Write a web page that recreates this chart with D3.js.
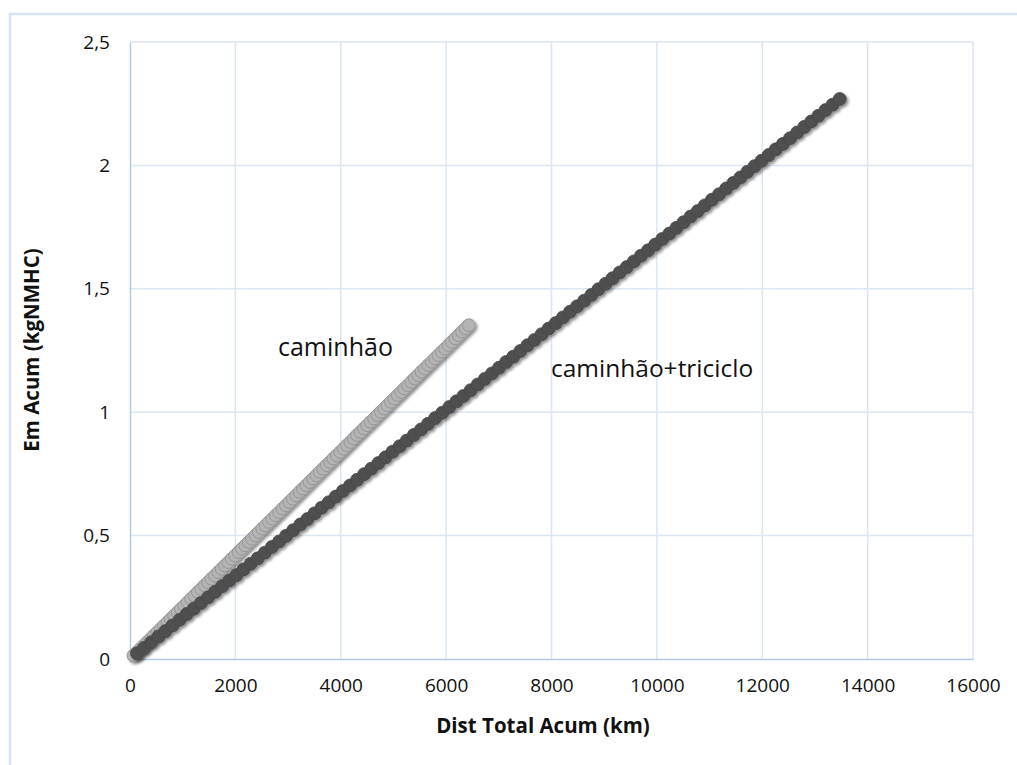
<!DOCTYPE html>
<html>
<head>
<meta charset="utf-8">
<script src="https://cdn.jsdelivr.net/npm/d3@7"></script>
<style>
  html, body { margin: 0; padding: 0; background: #fff; }
  svg { display: block; }
  text { font-family: "Open Sans", "Liberation Sans", sans-serif; fill: #111; }
</style>
</head>
<body>
<svg id="chart" width="1017" height="765"></svg>
<script>
// ---- data ----
const xTicks = [0, 2000, 4000, 6000, 8000, 10000, 12000, 14000, 16000];
const yTicks = [0, 0.5, 1, 1.5, 2, 2.5];
const yTickLabels = ["0", "0,5", "1", "1,5", "2", "2,5"];
const xTitle = "Dist Total Acum (km)";
const yTitle = "Em Acum (kgNMHC)";

// série "caminhão" (light grey)
const caminhaoDist = [64,129,193,257,322,386,450,514,579,643,707,772,836,900,965,1029,1093,1157,1222,1286,
  1350,1415,1479,1543,1608,1672,1736,1800,1865,1929,1993,2058,2122,2186,2251,2315,2379,2443,2508,2572,
  2636,2701,2765,2829,2894,2958,3022,3086,3151,3215,3279,3344,3408,3472,3537,3601,3665,3729,3794,3858,
  3922,3987,4051,4115,4180,4244,4308,4372,4437,4501,4565,4630,4694,4758,4823,4887,4951,5015,5080,5144,
  5208,5273,5337,5401,5466,5530,5594,5658,5723,5787,5851,5916,5980,6044,6109,6173,6237,6301,6366,6430];
const caminhaoEm = [0.014,0.027,0.041,0.054,0.068,0.081,0.095,0.108,0.122,0.135,0.149,0.162,0.176,0.189,0.203,0.216,0.230,0.244,0.257,0.271,
  0.284,0.298,0.311,0.325,0.338,0.352,0.365,0.379,0.392,0.406,0.419,0.433,0.447,0.460,0.474,0.487,0.501,0.514,0.528,0.541,
  0.555,0.568,0.582,0.595,0.609,0.622,0.636,0.649,0.663,0.677,0.690,0.704,0.717,0.731,0.744,0.758,0.771,0.785,0.798,0.812,
  0.825,0.839,0.852,0.866,0.879,0.893,0.907,0.920,0.934,0.947,0.961,0.974,0.988,1.001,1.015,1.028,1.042,1.055,1.069,1.082,
  1.096,1.109,1.123,1.137,1.150,1.164,1.177,1.191,1.204,1.218,1.231,1.245,1.258,1.272,1.285,1.299,1.312,1.326,1.339,1.353];

// série "caminhão+triciclo" (dark grey)
const triDist = [135,269,404,539,674,808,943,1078,1212,1347,1482,1616,1751,1886,2021,2155,2290,2425,2559,2694,
  2829,2963,3098,3233,3368,3502,3637,3772,3906,4041,4176,4310,4445,4580,4715,4849,4984,5119,5253,5388,
  5523,5657,5792,5927,6062,6196,6331,6466,6600,6735,6870,7004,7139,7274,7409,7543,7678,7813,7947,8082,
  8217,8351,8486,8621,8756,8890,9025,9160,9294,9429,9564,9698,9833,9968,10103,10237,10372,10507,10641,10776,
  10911,11045,11180,11315,11450,11584,11719,11854,11988,12123,12258,12392,12527,12662,12797,12931,13066,13201,13335,13470];
const triEm = [0.023,0.045,0.068,0.091,0.113,0.136,0.159,0.182,0.204,0.227,0.250,0.272,0.295,0.318,0.340,0.363,0.386,0.408,0.431,0.454,
  0.476,0.499,0.522,0.545,0.567,0.590,0.613,0.635,0.658,0.681,0.703,0.726,0.749,0.771,0.794,0.817,0.840,0.862,0.885,0.908,
  0.930,0.953,0.976,0.998,1.021,1.044,1.066,1.089,1.112,1.135,1.157,1.180,1.203,1.225,1.248,1.271,1.293,1.316,1.339,1.361,
  1.384,1.407,1.429,1.452,1.475,1.498,1.520,1.543,1.566,1.588,1.611,1.634,1.656,1.679,1.702,1.724,1.747,1.770,1.793,1.815,
  1.838,1.861,1.883,1.906,1.929,1.951,1.974,1.997,2.019,2.042,2.065,2.087,2.110,2.133,2.156,2.178,2.201,2.224,2.246,2.269];

const seriesNames = ["caminhão", "caminhão+triciclo"];

// ---- layout ----
const svg = d3.select("#chart");
const pLeft = 130, pRight = 973, pTop = 42, pBottom = 659;

const x = d3.scaleLinear().domain([0, 16000]).range([pLeft, pRight]);
const y = d3.scaleLinear().domain([0, 2.5]).range([pBottom, pTop]);

// outer chart border (light blue, cut by the picture edges)
svg.append("path")
  .attr("d", `M10,766 L10,14 L1018,14`)
  .attr("fill", "none").attr("stroke", "#d5e2f2").attr("stroke-width", 2.5);

// drop shadow filter
const defs = svg.append("defs");
const f = defs.append("filter").attr("id", "sh").attr("x", "-50%").attr("y", "-50%").attr("width", "200%").attr("height", "200%");
f.append("feDropShadow").attr("dx", 2).attr("dy", 2).attr("stdDeviation", 1.6).attr("flood-color", "#000").attr("flood-opacity", 0.45);

// gridlines
const grid = svg.append("g");
grid.selectAll("line.v").data(xTicks.slice(1)).join("line")
  .attr("x1", d => x(d)).attr("x2", d => x(d)).attr("y1", pTop).attr("y2", pBottom)
  .attr("stroke", "#dbe5f4").attr("stroke-width", 1.5);
grid.selectAll("line.h").data(yTicks.slice(1)).join("line")
  .attr("x1", pLeft).attr("x2", pRight).attr("y1", d => y(d)).attr("y2", d => y(d))
  .attr("stroke", "#dbe5f4").attr("stroke-width", 1.5);

// axes
const xAxis = d3.axisBottom(x).tickValues(xTicks).tickSize(0).tickPadding(20).tickFormat(d3.format("d"));
const gx = svg.append("g").attr("transform", `translate(0,${pBottom})`).call(xAxis);
gx.select(".domain").attr("stroke", "#b4c9e6").attr("stroke-width", 1.5);
gx.selectAll("text").attr("font-size", 19).attr("fill", "#111").attr("font-family", "Open Sans");

const yAxis = d3.axisLeft(y).tickValues(yTicks).tickSize(0).tickPadding(20).tickFormat((d, i) => yTickLabels[i]);
const gy = svg.append("g").attr("transform", `translate(${pLeft},0)`).call(yAxis);
gy.select(".domain").attr("stroke", "#b4c9e6").attr("stroke-width", 1.5);
gy.selectAll("text").attr("font-size", 19).attr("fill", "#111").attr("font-family", "Open Sans");

// series
const dataCam = caminhaoDist.map((d, i) => [d, caminhaoEm[i]]);
const dataTri = triDist.map((d, i) => [d, triEm[i]]);

svg.append("g").attr("filter", "url(#sh)")
  .selectAll("circle").data(dataCam).join("circle")
  .attr("cx", d => x(d[0])).attr("cy", d => y(d[1])).attr("r", 6.3)
  .attr("fill", "#b4b4b4").attr("stroke", "#969696").attr("stroke-width", 1);

svg.append("g").attr("filter", "url(#sh)")
  .selectAll("circle").data(dataTri).join("circle")
  .attr("cx", d => x(d[0])).attr("cy", d => y(d[1])).attr("r", 6.5)
  .attr("fill", "#4f4f4f").attr("stroke", "#474747").attr("stroke-width", 0.8);

// axis titles
svg.append("text").attr("x", 543).attr("y", 733)
  .attr("text-anchor", "middle").attr("font-size", 20.5).attr("font-weight", "bold").text(xTitle);
svg.append("text").attr("transform", `translate(39,350) rotate(-90)`)
  .attr("text-anchor", "middle").attr("font-size", 20.5).attr("font-weight", "bold").text(yTitle);

// series annotations
svg.append("text").attr("x", 278).attr("y", 356).attr("font-size", 25).text(seriesNames[0]);
svg.append("text").attr("x", 551).attr("y", 377).attr("font-size", 24.5).text(seriesNames[1]);
</script>
</body>
</html>
